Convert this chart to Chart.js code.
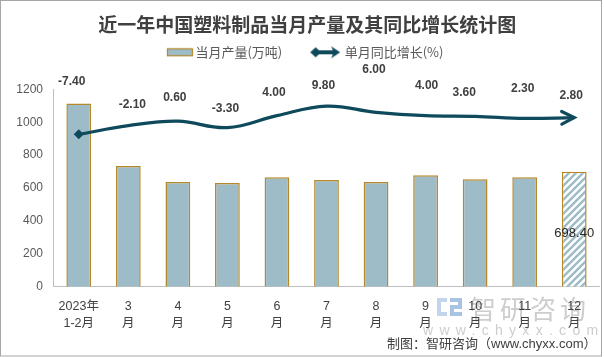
<!DOCTYPE html>
<html>
<head>
<meta charset="utf-8">
<script src="https://cdn.jsdelivr.net/npm/chart.js@4.4.0/dist/chart.umd.min.js"></script>
<style>
html,body{margin:0;padding:0;background:#ffffff;}
#wrap{width:604px;height:357px;position:relative;}
</style>
</head>
<body>
<div id="wrap"><canvas id="c" width="604" height="357"></canvas></div>
<script>
// ---- data ----
const categories = [['2023年','1-2月'],['3','月'],['4','月'],['5','月'],['6','月'],['7','月'],['8','月'],['9','月'],['10','月'],['11','月'],['12','月']];
const outputValues = [1113, 734, 637, 631, 665, 649, 637, 677, 653, 665, 698.4];
const growthValues = [-7.4, -2.1, 0.6, -3.3, 4.0, 9.8, 6.0, 4.0, 3.6, 2.3, 2.8];
const yTicks = [0, 200, 400, 600, 800, 1000, 1200];
const seriesNames = ['当月产量(万吨)', '单月同比增长(%)'];
const titleText = '近一年中国塑料制品当月产量及其同比增长统计图';
const sourceText = '制图：智研咨询（www.chyxx.com）';
const watermarkName = '智研咨询';
const watermarkUrl = 'www.chyxx.com';

// ---- styles ----
const BAR_FILL = '#9dbcc8';
const BAR_BORDER = '#b5892a';
const LINE_COLOR = '#0f4a5c';
const CJK = '"Noto Sans CJK SC", sans-serif';
const NUM = '"Liberation Sans", "Noto Sans CJK SC", sans-serif';
// label offsets (px) of the growth labels relative to their points
const labelOffsets = [[-7,-53],[4,-21],[-3,-24],[-2,-19],[-3,-23],[-3,-20],[-2,-43],[1,-30],[-11,-24],[-2,-30],[-3,-22]];
const lastIdx = outputValues.length - 1;

const canvas = document.getElementById('c');
const ctx0 = canvas.getContext('2d');

function makeHatch() {
  const s = 7;
  const c = document.createElement('canvas');
  c.width = s; c.height = s;
  const g = c.getContext('2d');
  g.fillStyle = '#ffffff'; g.fillRect(0, 0, s, s);
  g.strokeStyle = BAR_FILL; g.lineWidth = 2.4;
  g.beginPath();
  g.moveTo(-1, s + 1); g.lineTo(s + 1, -1);
  g.moveTo(-1, 1); g.lineTo(1, -1);
  g.moveTo(s - 1, s + 1); g.lineTo(s + 1, s - 1);
  g.stroke();
  return ctx0.createPattern(c, 'repeat');
}
const hatch = makeHatch();

// legend icons: canvas 56 wide, drawn centred in a 46px box
function barLegendIcon() {
  const c = document.createElement('canvas');
  c.width = 56; c.height = 10;
  const g = c.getContext('2d');
  g.fillStyle = BAR_FILL; g.fillRect(29, 1.5, 25, 7);
  g.strokeStyle = BAR_BORDER; g.lineWidth = 1.2; g.strokeRect(29.5, 1.5, 25, 7);
  return c;
}
function lineLegendIcon() {
  const c = document.createElement('canvas');
  c.width = 56; c.height = 16;
  const g = c.getContext('2d');
  g.fillStyle = LINE_COLOR; g.strokeStyle = LINE_COLOR;
  g.lineWidth = 4;
  g.beginPath(); g.moveTo(28, 8); g.lineTo(48, 8); g.stroke();
  g.beginPath(); g.moveTo(23, 8); g.lineTo(28.5, 3); g.lineTo(34, 8); g.lineTo(28.5, 13); g.closePath(); g.fill();
  g.beginPath(); g.moveTo(53, 8); g.lineTo(44, 2); g.lineTo(46.5, 8); g.lineTo(44, 14); g.closePath(); g.fill();
  return c;
}
const legendIcons = [barLegendIcon(), lineLegendIcon()];

const legendTweak = {
  id: 'legendTweak',
  beforeInit(chart) {
    const lg = chart.legend;
    if (!lg) return;
    const origFit = lg.fit;
    lg.fit = function () { origFit.call(this); this.height += 20.5; };
    const origDraw = lg.draw;
    lg.draw = function () {
      const c = this.ctx;
      c.save(); c.translate(-14, 0);
      origDraw.call(this);
      c.restore();
    };
  }
};

const overlay = {
  id: 'overlay',
  beforeDraw(chart) {
    const ctx = chart.ctx;
    ctx.save();
    // watermark logo
    ctx.fillStyle = '#c3d5ea';
    ctx.fillRect(437, 298, 10, 4);
    ctx.fillRect(437, 298, 4, 18);
    ctx.fillRect(437, 312, 10, 4);
    ctx.fillStyle = '#a9c3e3';
    ctx.fillRect(450, 298, 12, 4);
    ctx.fillRect(458, 298, 4, 10);
    ctx.fillRect(450, 305, 12, 4);
    ctx.fillRect(450, 305, 4, 11);
    ctx.fillRect(450, 312, 12, 4);
    // watermark text
    ctx.fillStyle = '#cdcdcd';
    ctx.textAlign = 'left';
    ctx.textBaseline = 'middle';
    ctx.font = '26px ' + CJK;
    ctx.letterSpacing = '4px';
    ctx.fillText(watermarkName, 470, 309);
    ctx.font = '14px "Liberation Sans", sans-serif';
    ctx.letterSpacing = '6.3px';
    ctx.fillText(watermarkUrl, 423, 331);
    ctx.restore();
  },
  afterDatasetsDraw(chart) {
    const ctx = chart.ctx;
    const lineMeta = chart.getDatasetMeta(1);
    const barMeta = chart.getDatasetMeta(0);
    const pts = lineMeta.data;
    ctx.save();
    // arrow head at end of line
    const last = pts[pts.length - 1];
    const prev = pts[pts.length - 2];
    const useCp = last.cp1x !== undefined && Math.abs(last.cp1x - last.x) > 0.5;
    const bx = useCp ? last.cp1x : prev.x;
    const by = useCp ? last.cp1y : prev.y;
    const a = Math.atan2(last.y - by, last.x - bx);
    const L = 14, w = 0.47;
    ctx.strokeStyle = LINE_COLOR; ctx.lineWidth = 3.2; ctx.lineCap = 'round'; ctx.lineJoin = 'miter';
    ctx.beginPath();
    ctx.moveTo(last.x - L * Math.cos(a - w), last.y - L * Math.sin(a - w));
    ctx.lineTo(last.x, last.y);
    ctx.lineTo(last.x - L * Math.cos(a + w), last.y - L * Math.sin(a + w));
    ctx.stroke();
    // growth labels
    ctx.font = 'bold 12px ' + NUM;
    ctx.fillStyle = '#404040';
    ctx.textAlign = 'center';
    ctx.textBaseline = 'middle';
    const gd = chart.data.datasets[1].data;
    pts.forEach((p, i) => {
      const o = labelOffsets[i];
      ctx.fillText(Number(gd[i]).toFixed(2), p.x + o[0], p.y + o[1]);
    });
    // value label on last bar
    const b = barMeta.data[lastIdx];
    ctx.font = '13px ' + NUM;
    ctx.fillStyle = '#262626';
    ctx.fillText(Number(chart.data.datasets[0].data[lastIdx]).toFixed(2), b.x, (b.y + b.base) / 2 + 4);
    ctx.restore();
  },
  afterDraw(chart) {
    const ctx = chart.ctx;
    ctx.save();
    // source note
    ctx.font = '13px ' + NUM;
    ctx.fillStyle = '#404040';
    ctx.textAlign = 'left';
    ctx.textBaseline = 'middle';
    ctx.fillText(sourceText, 387, 344);
    // frame
    ctx.fillStyle = '#ffffff';
    ctx.fillRect(602, 0, 2, 357);
    ctx.strokeStyle = '#a6a6a6';
    ctx.lineWidth = 1;
    ctx.strokeRect(0.5, 0.5, 601, 355.5);
    ctx.restore();
  }
};

new Chart(canvas, {
  data: {
    labels: categories,
    datasets: [
      {
        type: 'bar',
        label: seriesNames[0],
        data: outputValues,
        yAxisID: 'y',
        order: 1,
        backgroundColor: (c) => c.dataIndex === lastIdx ? hatch : BAR_FILL,
        borderColor: BAR_BORDER,
        borderWidth: 1.5,
        categoryPercentage: 1,
        barPercentage: 0.5
      },
      {
        type: 'line',
        label: seriesNames[1],
        data: growthValues,
        yAxisID: 'y1',
        order: 0,
        borderColor: LINE_COLOR,
        borderWidth: 3.2,
        tension: 0.4,
        pointStyle: 'rectRot',
        pointRadius: (c) => c.dataIndex === 0 ? 5 : 0,
        pointHoverRadius: 0,
        pointBackgroundColor: LINE_COLOR,
        pointBorderWidth: 0,
        clip: false
      }
    ]
  },
  options: {
    responsive: false,
    devicePixelRatio: 1,
    animation: false,
    layout: { padding: { left: 5.3, right: -5, top: 0, bottom: 13.3 } },
    plugins: {
      tooltip: { enabled: false },
      title: {
        display: true,
        text: titleText,
        color: '#404040',
        font: { size: 19, weight: 'bold', family: CJK },
        padding: { top: 13, bottom: 0 }
      },
      legend: {
        display: true,
        position: 'top',
        labels: {
          usePointStyle: true,
          pointStyleWidth: 46,
          padding: 10,
          color: '#595959',
          font: { size: 13, family: CJK },
          generateLabels: (chart) => chart.data.datasets.map((ds, i) => ({
            text: ds.label,
            pointStyle: legendIcons[i],
            datasetIndex: i,
            hidden: false,
            lineWidth: 0,
            fillStyle: 'rgba(0,0,0,0)',
            strokeStyle: 'rgba(0,0,0,0)',
            fontColor: '#595959'
          }))
        }
      }
    },
    scales: {
      x: {
        offset: true,
        grid: { display: false, drawTicks: false },
        border: { display: true, color: '#bfbfbf', width: 1 },
        ticks: {
          autoSkip: false,
          maxRotation: 0,
          padding: 11.5,
          color: '#404040',
          font: { size: 12.5, family: NUM, lineHeight: '17px' }
        }
      },
      y: {
        position: 'left',
        min: 0,
        max: 1200,
        afterBuildTicks: (s) => { s.ticks = yTicks.map(v => ({ value: v })); },
        grid: { display: false, drawTicks: false },
        border: { display: true, color: '#bfbfbf', width: 1 },
        ticks: {
          padding: 11,
          color: '#595959',
          font: { size: 12, family: NUM },
          callback: (v) => String(v)
        }
      },
      y1: {
        display: false,
        position: 'right',
        min: -100,
        max: 20
      }
    }
  },
  plugins: [legendTweak, overlay]
});
</script>
</body>
</html>
